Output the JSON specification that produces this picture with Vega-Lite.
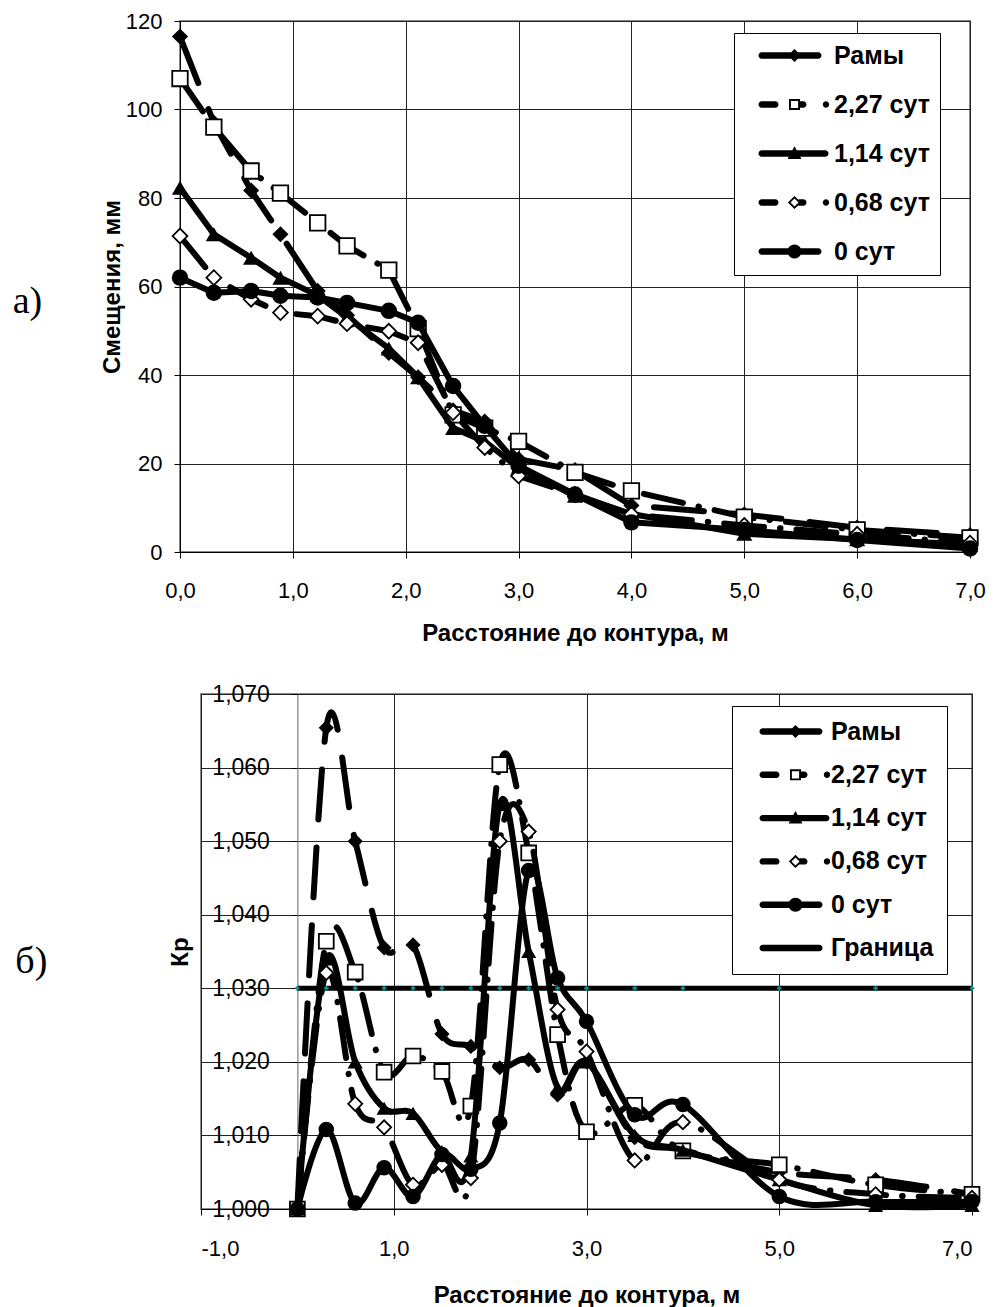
{
  "$schema": "https://vega.github.io/schema/vega-lite/v6.json",
  "background": "white",
  "padding": {"left": 10, "top": 9, "right": 0, "bottom": 0},
  "datasets": {
    "top": [
      {"s":"Рамы","x":0,"y":116.5},{"s":"Рамы","x":0.3,"y":97},{"s":"Рамы","x":0.63,"y":81.7},{"s":"Рамы","x":0.89,"y":71.8},{"s":"Рамы","x":1.22,"y":59},{"s":"Рамы","x":1.48,"y":53.5},{"s":"Рамы","x":1.85,"y":45},{"s":"Рамы","x":2.11,"y":39.5},{"s":"Рамы","x":2.42,"y":32},{"s":"Рамы","x":2.7,"y":29.5},{"s":"Рамы","x":3,"y":21},{"s":"Рамы","x":3.5,"y":18.5},{"s":"Рамы","x":4,"y":10.5},{"s":"Рамы","x":5,"y":8.5},{"s":"Рамы","x":6,"y":5.5},{"s":"Рамы","x":7,"y":3.8},
      {"s":"2,27 сут","x":0,"y":107},{"s":"2,27 сут","x":0.3,"y":96},{"s":"2,27 сут","x":0.63,"y":86.1},{"s":"2,27 сут","x":0.89,"y":81.1},{"s":"2,27 сут","x":1.22,"y":74.4},{"s":"2,27 сут","x":1.48,"y":69.2},{"s":"2,27 сут","x":1.85,"y":63.7},{"s":"2,27 сут","x":2.11,"y":50.5},{"s":"2,27 сут","x":2.42,"y":31},{"s":"2,27 сут","x":2.7,"y":28},{"s":"2,27 сут","x":3,"y":25},{"s":"2,27 сут","x":3.5,"y":18},{"s":"2,27 сут","x":4,"y":13.8},{"s":"2,27 сут","x":5,"y":7.9},{"s":"2,27 сут","x":6,"y":5},{"s":"2,27 сут","x":7,"y":3.2},
      {"s":"1,14 сут","x":0,"y":82.3},{"s":"1,14 сут","x":0.3,"y":71.8},{"s":"1,14 сут","x":0.63,"y":66.5},{"s":"1,14 сут","x":0.89,"y":62},{"s":"1,14 сут","x":1.22,"y":58},{"s":"1,14 сут","x":1.48,"y":53},{"s":"1,14 сут","x":1.85,"y":46},{"s":"1,14 сут","x":2.11,"y":39.5},{"s":"1,14 сут","x":2.42,"y":28},{"s":"1,14 сут","x":2.7,"y":25},{"s":"1,14 сут","x":3,"y":19},{"s":"1,14 сут","x":3.5,"y":12.7},{"s":"1,14 сут","x":4,"y":8.6},{"s":"1,14 сут","x":5,"y":4.1},{"s":"1,14 сут","x":6,"y":2.9},{"s":"1,14 сут","x":7,"y":1.7},
      {"s":"0,68 сут","x":0,"y":71.4},{"s":"0,68 сут","x":0.3,"y":62},{"s":"0,68 сут","x":0.63,"y":57.1},{"s":"0,68 сут","x":0.89,"y":54.1},{"s":"0,68 сут","x":1.22,"y":53.3},{"s":"0,68 сут","x":1.48,"y":51.6},{"s":"0,68 сут","x":1.85,"y":49.9},{"s":"0,68 сут","x":2.11,"y":47.3},{"s":"0,68 сут","x":2.42,"y":31.5},{"s":"0,68 сут","x":2.7,"y":23.6},{"s":"0,68 сут","x":3,"y":17.2},{"s":"0,68 сут","x":3.5,"y":13},{"s":"0,68 сут","x":4,"y":8.5},{"s":"0,68 сут","x":5,"y":6},{"s":"0,68 сут","x":6,"y":4},{"s":"0,68 сут","x":7,"y":2},
      {"s":"0 сут","x":0,"y":62},{"s":"0 сут","x":0.3,"y":58.6},{"s":"0 сут","x":0.63,"y":59},{"s":"0 сут","x":0.89,"y":57.9},{"s":"0 сут","x":1.22,"y":57.5},{"s":"0 сут","x":1.48,"y":56.3},{"s":"0 сут","x":1.85,"y":54.5},{"s":"0 сут","x":2.11,"y":51.8},{"s":"0 сут","x":2.42,"y":37.5},{"s":"0 сут","x":2.7,"y":28.5},{"s":"0 сут","x":3,"y":19.5},{"s":"0 сут","x":3.5,"y":13},{"s":"0 сут","x":4,"y":6.7},{"s":"0 сут","x":5,"y":5},{"s":"0 сут","x":6,"y":2.7},{"s":"0 сут","x":7,"y":0.8}
    ],
    "bot": [
      {"s":"Рамы","x":0,"y":1},{"s":"Рамы","x":0.3,"y":1.0654},{"s":"Рамы","x":0.6,"y":1.05},{"s":"Рамы","x":0.9,"y":1.0355},{"s":"Рамы","x":1.2,"y":1.0359},{"s":"Рамы","x":1.5,"y":1.0238},{"s":"Рамы","x":1.8,"y":1.0221},{"s":"Рамы","x":2.1,"y":1.0192},{"s":"Рамы","x":2.4,"y":1.0203},{"s":"Рамы","x":2.7,"y":1.0155},{"s":"Рамы","x":3,"y":1.02},{"s":"Рамы","x":3.5,"y":1.0097},{"s":"Рамы","x":4,"y":1.008},{"s":"Рамы","x":5,"y":1.005},{"s":"Рамы","x":6,"y":1.004},{"s":"Рамы","x":7,"y":1.002},
      {"s":"2,27 сут","x":0,"y":1},{"s":"2,27 сут","x":0.3,"y":1.0364},{"s":"2,27 сут","x":0.6,"y":1.0322},{"s":"2,27 сут","x":0.9,"y":1.0186},{"s":"2,27 сут","x":1.2,"y":1.0208},{"s":"2,27 сут","x":1.5,"y":1.0187},{"s":"2,27 сут","x":1.8,"y":1.014},{"s":"2,27 сут","x":2.1,"y":1.0604},{"s":"2,27 сут","x":2.4,"y":1.0484},{"s":"2,27 сут","x":2.7,"y":1.0237},{"s":"2,27 сут","x":3,"y":1.0105},{"s":"2,27 сут","x":3.5,"y":1.0141},{"s":"2,27 сут","x":4,"y":1.0079},{"s":"2,27 сут","x":5,"y":1.006},{"s":"2,27 сут","x":6,"y":1.0033},{"s":"2,27 сут","x":7,"y":1.002},
      {"s":"1,14 сут","x":0,"y":1},{"s":"1,14 сут","x":0.3,"y":1.034},{"s":"1,14 сут","x":0.6,"y":1.02},{"s":"1,14 сут","x":0.9,"y":1.0137},{"s":"1,14 сут","x":1.2,"y":1.013},{"s":"1,14 сут","x":1.5,"y":1.0078},{"s":"1,14 сут","x":1.8,"y":1.0072},{"s":"1,14 сут","x":2.1,"y":1.055},{"s":"1,14 сут","x":2.4,"y":1.035},{"s":"1,14 сут","x":2.7,"y":1.0165},{"s":"1,14 сут","x":3,"y":1.02},{"s":"1,14 сут","x":3.5,"y":1.01},{"s":"1,14 сут","x":4,"y":1.008},{"s":"1,14 сут","x":5,"y":1.004},{"s":"1,14 сут","x":6,"y":1.0005},{"s":"1,14 сут","x":7,"y":1.0005},
      {"s":"0,68 сут","x":0,"y":1},{"s":"0,68 сут","x":0.3,"y":1.0321},{"s":"0,68 сут","x":0.6,"y":1.0143},{"s":"0,68 сут","x":0.9,"y":1.0111},{"s":"0,68 сут","x":1.2,"y":1.0033},{"s":"0,68 сут","x":1.5,"y":1.006},{"s":"0,68 сут","x":1.8,"y":1.0042},{"s":"0,68 сут","x":2.1,"y":1.05},{"s":"0,68 сут","x":2.4,"y":1.0513},{"s":"0,68 сут","x":2.7,"y":1.0271},{"s":"0,68 сут","x":3,"y":1.0214},{"s":"0,68 сут","x":3.5,"y":1.0066},{"s":"0,68 сут","x":4,"y":1.0118},{"s":"0,68 сут","x":5,"y":1.004},{"s":"0,68 сут","x":6,"y":1.002},{"s":"0,68 сут","x":7,"y":1.0015},
      {"s":"0 сут","x":0,"y":1},{"s":"0 сут","x":0.3,"y":1.0108},{"s":"0 сут","x":0.6,"y":1.0008},{"s":"0 сут","x":0.9,"y":1.0056},{"s":"0 сут","x":1.2,"y":1.0017},{"s":"0 сут","x":1.5,"y":1.0074},{"s":"0 сут","x":1.8,"y":1.0054},{"s":"0 сут","x":2.1,"y":1.0117},{"s":"0 сут","x":2.4,"y":1.046},{"s":"0 сут","x":2.7,"y":1.0314},{"s":"0 сут","x":3,"y":1.0255},{"s":"0 сут","x":3.5,"y":1.0128},{"s":"0 сут","x":4,"y":1.0142},{"s":"0 сут","x":5,"y":1.0017},{"s":"0 сут","x":6,"y":1.001},{"s":"0 сут","x":7,"y":1.001},
      {"s":"Граница","x":0,"y":1.03},{"s":"Граница","x":0.3,"y":1.03},{"s":"Граница","x":0.6,"y":1.03},{"s":"Граница","x":0.9,"y":1.03},{"s":"Граница","x":1.2,"y":1.03},{"s":"Граница","x":1.5,"y":1.03},{"s":"Граница","x":1.8,"y":1.03},{"s":"Граница","x":2.1,"y":1.03},{"s":"Граница","x":2.4,"y":1.03},{"s":"Граница","x":2.7,"y":1.03},{"s":"Граница","x":3,"y":1.03},{"s":"Граница","x":3.5,"y":1.03},{"s":"Граница","x":4,"y":1.03},{"s":"Граница","x":5,"y":1.03},{"s":"Граница","x":6,"y":1.03},{"s":"Граница","x":7,"y":1.03}
    ]
  },
  "vconcat": [
    {"hconcat": [
    {"width": 1, "height": 10, "data": {"values": []}, "mark": "point", "view": {"stroke": null}},
    {
      "width": 790,
      "height": 531,
      "data": {"name": "top"},
      "title": {"text": "а)", "orient": "left", "angle": 0, "align": "right", "baseline": "middle", "anchor": "middle", "font": "Liberation Serif", "fontSize": 38, "fontWeight": "normal", "color": "black", "offset": 28.5, "dy": 15},
      "encoding": {
        "x": {"field": "x", "type": "quantitative", "scale": {"domain": [0, 7], "nice": false, "zero": false},
          "axis": {"values": [0,1,2,3,4,5,6,7], "format": ".1f", "grid": true, "labelFlush": false, "title": "Расстояние до контура, м", "labelPadding": 22, "titlePadding": 20}},
        "y": {"field": "y", "type": "quantitative", "scale": {"domain": [0, 120], "nice": false},
          "axis": {"values": [0,20,40,60,80,100,120], "grid": true, "labelFlush": false, "title": "Смещения, мм", "labelPadding": 12, "titlePadding": 1}}
      },
      "layer": [
        {"transform": [{"filter": {"field": "s", "equal": "Рамы"}}], "layer": [
          {"mark": {"type": "line", "color": "black", "strokeWidth": 6, "strokeDash": [50, 28], "strokeCap": "round", "strokeJoin": "round"}},
          {"mark": {"type": "point", "shape": "diamond", "filled": true, "color": "black", "opacity": 1, "size": 260}}
        ]},
        {"transform": [{"filter": {"field": "s", "equal": "2,27 сут"}}], "layer": [
          {"mark": {"type": "line", "color": "black", "strokeWidth": 6, "strokeDash": [40, 16, 0.5, 16], "strokeCap": "round", "strokeJoin": "round"}},
          {"mark": {"type": "point", "shape": "square", "filled": true, "fill": "white", "stroke": "black", "strokeWidth": 1.8, "opacity": 1, "size": 240}}
        ]},
        {"transform": [{"filter": {"field": "s", "equal": "1,14 сут"}}], "layer": [
          {"mark": {"type": "line", "color": "black", "strokeWidth": 6, "strokeCap": "round", "strokeJoin": "round"}},
          {"mark": {"type": "point", "shape": "triangle-up", "filled": true, "color": "black", "opacity": 1, "size": 260}}
        ]},
        {"transform": [{"filter": {"field": "s", "equal": "0,68 сут"}}], "layer": [
          {"mark": {"type": "line", "color": "black", "strokeWidth": 6, "strokeDash": [40, 16, 0.5, 16], "strokeCap": "round", "strokeJoin": "round"}},
          {"mark": {"type": "point", "shape": "diamond", "filled": true, "fill": "white", "stroke": "black", "strokeWidth": 1.8, "opacity": 1, "size": 220}}
        ]},
        {"transform": [{"filter": {"field": "s", "equal": "0 сут"}}], "layer": [
          {"mark": {"type": "line", "color": "black", "strokeWidth": 6, "strokeCap": "round", "strokeJoin": "round"}},
          {"mark": {"type": "point", "shape": "circle", "filled": true, "color": "black", "opacity": 1, "size": 270}}
        ]},
        {"mark": {"type": "point", "filled": true, "color": "black", "opacity": 0},
          "encoding": {"shape": {"field": "s", "type": "nominal",
            "scale": {"domain": ["Рамы", "2,27 сут", "1,14 сут", "0,68 сут", "0 сут"],
              "range": [
                "M0.52,-0.32L6.18,-0.32A0.32,0.32 0 0 1 6.18,0.32L0.52,0.32A0.32,0.32 0 0 1 0.52,-0.32ZM3.8,-0.66L4.46,0L3.8,0.66L3.14,0Z",
                "M0.52,-0.32L1.88,-0.32A0.32,0.32 0 0 1 1.88,0.32L0.52,0.32A0.32,0.32 0 0 1 0.52,-0.32ZM3.25,-0.55L4.35,-0.55L4.35,0.55L3.25,0.55ZM3.44,-0.36L3.44,0.36L4.16,0.36L4.16,-0.36ZM4.35,-0.32L4.68,-0.32A0.32,0.32 0 0 1 4.68,0.32L4.35,0.32ZM6.63,0A0.32,0.32 0 1 1 7.27,0A0.32,0.32 0 1 1 6.63,0Z",
                "M0.52,-0.32L6.88,-0.32A0.32,0.32 0 0 1 6.88,0.32L0.52,0.32A0.32,0.32 0 0 1 0.52,-0.32ZM3.8,-0.72L4.49,0.54L3.11,0.54Z",
                "M0.52,-0.32L1.88,-0.32A0.32,0.32 0 0 1 1.88,0.32L0.52,0.32A0.32,0.32 0 0 1 0.52,-0.32ZM3.8,-0.66L4.46,0L3.8,0.66L3.14,0ZM3.8,-0.4L3.4,0L3.8,0.4L4.2,0ZM4.2,-0.32L4.68,-0.32A0.32,0.32 0 0 1 4.68,0.32L4.2,0.32ZM6.63,0A0.32,0.32 0 1 1 7.27,0A0.32,0.32 0 1 1 6.63,0Z",
                "M0.52,-0.32L6.18,-0.32A0.32,0.32 0 0 1 6.18,0.32L0.52,0.32A0.32,0.32 0 0 1 0.52,-0.32ZM3.1,0A0.7,0.7 0 1 1 4.5,0A0.7,0.7 0 1 1 3.1,0Z"
              ]},
            "legend": {"orient": "none", "legendX": 554, "legendY": 12, "title": null, "symbolSize": 400, "symbolOpacity": 1, "symbolFillColor": "black", "symbolStrokeColor": "black", "symbolStrokeWidth": 0, "labelFont": "Liberation Sans", "labelFontSize": 25, "labelFontWeight": "bold", "labelColor": "black", "labelOffset": 65, "labelLimit": 300, "rowPadding": 23, "padding": 10, "strokeColor": "black", "fillColor": "white", "cornerRadius": 0,
              "encode": {"symbols": {"update": {"opacity": {"value": 1}, "fill": {"value": "black"}, "strokeWidth": {"value": 0}}}}}
          }}
        }
      ]
    }],
    "spacing": 0,
    "resolve": {"scale": {"shape": "independent"}, "legend": {"shape": "independent"}}},
    {"hconcat": [
    {"width": 4, "height": 10, "data": {"values": []}, "mark": "point", "view": {"stroke": null}},
    {
      "width": 771,
      "height": 515,
      "data": {"name": "bot"},
      "title": {"text": "б)", "orient": "left", "angle": 0, "align": "right", "baseline": "middle", "anchor": "middle", "font": "Liberation Serif", "fontSize": 38, "fontWeight": "normal", "color": "black", "offset": 89.5, "dy": 10},
      "encoding": {
        "x": {"field": "x", "type": "quantitative", "scale": {"domain": [-1, 7], "nice": false, "zero": false},
          "axis": {"values": [-1,1,3,5,7], "format": ".1f", "grid": true, "title": "Расстояние до контура, м", "labelPadding": 23, "titlePadding": 24}},
        "y": {"field": "y", "type": "quantitative", "scale": {"domain": [1, 1.07], "nice": false, "zero": false},
          "axis": {"values": [1, 1.01, 1.02, 1.03, 1.04, 1.05, 1.06, 1.07], "format": ".3f", "grid": true, "labelFlush": false, "title": "Кр", "offset": -96.4, "labelFontSize": 23, "labelPadding": 22, "titlePadding": 19, "domainColor": "#666666"}}
      },
      "layer": [
        {"transform": [{"filter": {"field": "s", "equal": "Рамы"}}], "layer": [
          {"mark": {"type": "line", "interpolate": "cardinal", "color": "black", "strokeWidth": 6, "strokeDash": [50, 28], "strokeCap": "round", "strokeJoin": "round"}},
          {"mark": {"type": "point", "shape": "diamond", "filled": true, "color": "black", "opacity": 1, "size": 230}}
        ]},
        {"transform": [{"filter": {"field": "s", "equal": "2,27 сут"}}], "layer": [
          {"mark": {"type": "line", "interpolate": "cardinal", "color": "black", "strokeWidth": 6, "strokeDash": [40, 16, 0.5, 16], "strokeCap": "round", "strokeJoin": "round"}},
          {"mark": {"type": "point", "shape": "square", "filled": true, "fill": "white", "stroke": "black", "strokeWidth": 1.8, "opacity": 1, "size": 220}}
        ]},
        {"transform": [{"filter": {"field": "s", "equal": "1,14 сут"}}], "layer": [
          {"mark": {"type": "line", "interpolate": "cardinal", "color": "black", "strokeWidth": 6, "strokeCap": "round", "strokeJoin": "round"}},
          {"mark": {"type": "point", "shape": "triangle-up", "filled": true, "color": "black", "opacity": 1, "size": 230}}
        ]},
        {"transform": [{"filter": {"field": "s", "equal": "0,68 сут"}}], "layer": [
          {"mark": {"type": "line", "interpolate": "cardinal", "color": "black", "strokeWidth": 6, "strokeDash": [40, 16, 0.5, 16], "strokeCap": "round", "strokeJoin": "round"}},
          {"mark": {"type": "point", "shape": "diamond", "filled": true, "fill": "white", "stroke": "black", "strokeWidth": 1.8, "opacity": 1, "size": 200}}
        ]},
        {"transform": [{"filter": {"field": "s", "equal": "0 сут"}}], "layer": [
          {"mark": {"type": "line", "interpolate": "cardinal", "color": "black", "strokeWidth": 6, "strokeCap": "round", "strokeJoin": "round"}},
          {"mark": {"type": "point", "shape": "circle", "filled": true, "color": "black", "opacity": 1, "size": 240}}
        ]},
        {"transform": [{"filter": {"field": "s", "equal": "Граница"}}], "layer": [
          {"mark": {"type": "line", "color": "black", "strokeWidth": 5}},
          {"mark": {"type": "point", "shape": "cross", "filled": true, "color": "#0a8f8f", "opacity": 1, "size": 22}}
        ]},
        {"mark": {"type": "point", "filled": true, "color": "black", "opacity": 0},
          "encoding": {"shape": {"field": "s", "type": "nominal",
            "scale": {"domain": ["Рамы", "2,27 сут", "1,14 сут", "0,68 сут", "0 сут", "Граница"],
              "range": [
                "M0.52,-0.32L6.18,-0.32A0.32,0.32 0 0 1 6.18,0.32L0.52,0.32A0.32,0.32 0 0 1 0.52,-0.32ZM3.8,-0.66L4.46,0L3.8,0.66L3.14,0Z",
                "M0.52,-0.32L1.88,-0.32A0.32,0.32 0 0 1 1.88,0.32L0.52,0.32A0.32,0.32 0 0 1 0.52,-0.32ZM3.25,-0.55L4.35,-0.55L4.35,0.55L3.25,0.55ZM3.44,-0.36L3.44,0.36L4.16,0.36L4.16,-0.36ZM4.35,-0.32L4.68,-0.32A0.32,0.32 0 0 1 4.68,0.32L4.35,0.32ZM6.63,0A0.32,0.32 0 1 1 7.27,0A0.32,0.32 0 1 1 6.63,0Z",
                "M0.52,-0.32L6.88,-0.32A0.32,0.32 0 0 1 6.88,0.32L0.52,0.32A0.32,0.32 0 0 1 0.52,-0.32ZM3.8,-0.72L4.49,0.54L3.11,0.54Z",
                "M0.52,-0.32L1.88,-0.32A0.32,0.32 0 0 1 1.88,0.32L0.52,0.32A0.32,0.32 0 0 1 0.52,-0.32ZM3.8,-0.66L4.46,0L3.8,0.66L3.14,0ZM3.8,-0.4L3.4,0L3.8,0.4L4.2,0ZM4.2,-0.32L4.68,-0.32A0.32,0.32 0 0 1 4.68,0.32L4.2,0.32ZM6.63,0A0.32,0.32 0 1 1 7.27,0A0.32,0.32 0 1 1 6.63,0Z",
                "M0.52,-0.32L6.18,-0.32A0.32,0.32 0 0 1 6.18,0.32L0.52,0.32A0.32,0.32 0 0 1 0.52,-0.32ZM3.1,0A0.7,0.7 0 1 1 4.5,0A0.7,0.7 0 1 1 3.1,0Z",
                "M0.52,-0.32L6.18,-0.32A0.32,0.32 0 0 1 6.18,0.32L0.52,0.32A0.32,0.32 0 0 1 0.52,-0.32Z"
              ]},
            "legend": {"orient": "none", "legendX": 531, "legendY": 12, "title": null, "symbolSize": 400, "symbolOpacity": 1, "symbolFillColor": "black", "symbolStrokeColor": "black", "symbolStrokeWidth": 0, "labelFont": "Liberation Sans", "labelFontSize": 25, "labelFontWeight": "bold", "labelColor": "black", "labelOffset": 61, "labelLimit": 300, "rowPadding": 17.3, "padding": 13, "strokeColor": "black", "fillColor": "white", "cornerRadius": 0,
              "encode": {"symbols": {"update": {"opacity": {"value": 1}, "fill": {"value": "black"}, "strokeWidth": {"value": 0}}}}}
          }}
        }
      ]
    }],
    "spacing": 0,
    "resolve": {"scale": {"shape": "independent"}, "legend": {"shape": "independent"}}}
  ],
  "spacing": 36,
  "resolve": {"scale": {"shape": "independent", "x": "independent", "y": "independent"}, "legend": {"shape": "independent"}},
  "config": {
    "locale": {"number": {"decimal": ",", "thousands": " ", "grouping": [3], "currency": ["", ""], "minus": "-"}},
    "font": "Liberation Sans",
    "view": {"stroke": "#888888", "strokeWidth": 2},
    "axis": {"labelFont": "Liberation Sans", "labelFontSize": 22, "labelColor": "black", "titleFont": "Liberation Sans", "titleFontSize": 24, "titleFontWeight": "bold", "titleColor": "black", "domainColor": "black", "domainWidth": 1, "tickColor": "black", "tickSize": 6, "gridColor": "#222222", "gridWidth": 1, "gridOpacity": 1}
  }
}
